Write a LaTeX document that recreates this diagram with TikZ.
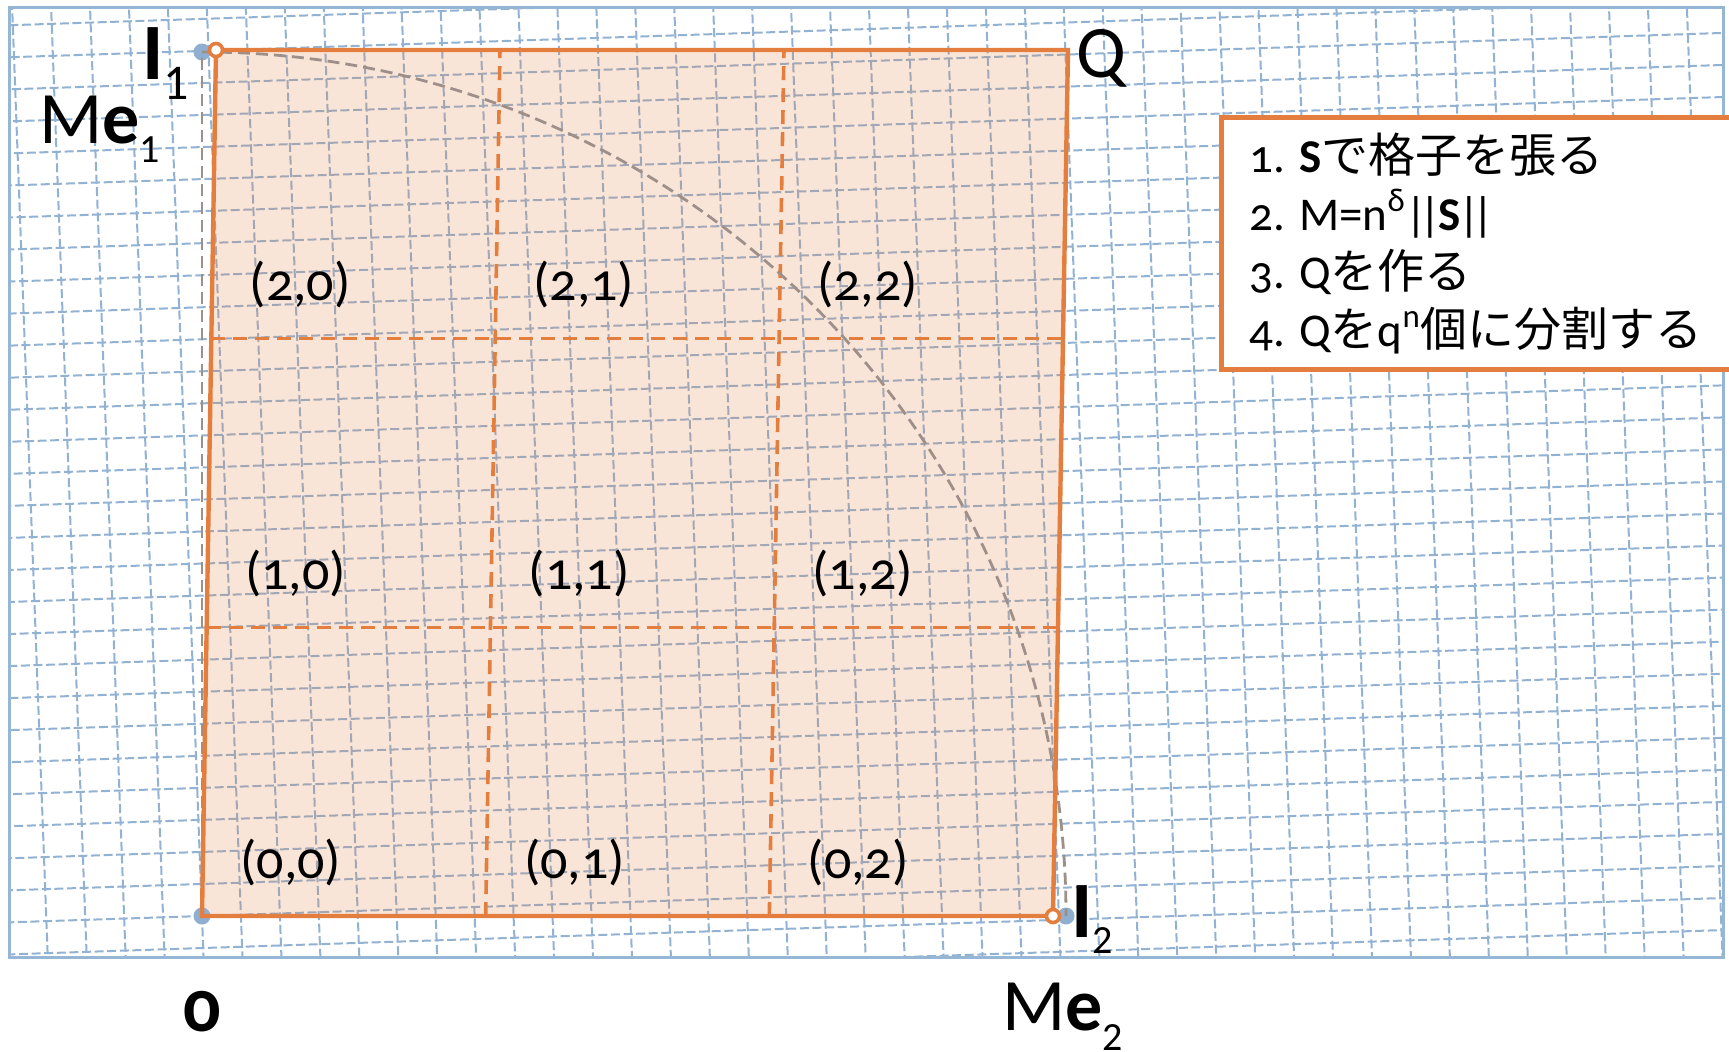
\documentclass[tikz,border=0pt]{standalone}
\usepackage{fontspec}
\setmainfont{Carlito}[Numbers=OldStyle]
\newfontfamily\liningfont{Carlito}[Numbers=Lining]
\newfontfamily\jpfont{Noto Sans CJK JP}
\usetikzlibrary{calc}

\definecolor{gridblue}{RGB}{146,178,212}
\definecolor{frameblue}{RGB}{150,182,214}
\definecolor{dotblue}{RGB}{143,175,209}
\definecolor{qorange}{RGB}{228,126,62}
\definecolor{arcgray}{RGB}{158,143,137}

% lowered subscript in lining figures: #1 drop, #2 size, #3 text
\newcommand{\lowsub}[3]{\raisebox{-#1}{\normalfont\liningfont\fontsize{#2}{#2}\selectfont #3}}
% double bar of a norm
\newcommand{\dbar}{|\kern-0.17em|}

\begin{document}
\begin{tikzpicture}[x=0.5pt,y=-0.5pt,
  gridline/.style={draw=gridblue, line width=1pt, dash pattern=on 4.5pt off 1.8pt},
  frameline/.style={draw=frameblue, line width=1.5pt},
  qfill/.style={fill=qorange, fill opacity=0.2},
  qedge/.style={draw=qorange, line width=2.2pt, line join=miter},
  qsplit/.style={draw=qorange, line width=1.8pt, dash pattern=on 7pt off 4pt},
  arcline/.style={draw=arcgray, line width=1.4pt, dash pattern=on 6pt off 3pt},
  latdot/.style={circle, fill=dotblue, inner sep=0pt, minimum size=8.5pt},
  qdot/.style={circle, draw=qorange, fill=white, line width=1.8pt, inner sep=0pt, minimum size=6.5pt},
  cell/.style={inner sep=0pt, font=\fontsize{27}{27}\selectfont},
  biglabel/.style={inner sep=0pt, anchor=base west, font=\fontsize{37}{37}\selectfont},
  stepline/.style={inner sep=0pt, anchor=base west, font=\fontsize{23.5}{23.5}\selectfont},
  stepbox/.style={draw=qorange, fill=white, line width=2.5pt}
]
\useasboundingbox (0,0) rectangle (1729,1051);
\fill[white] (0,0) rectangle (1729,1051);

% skewed lattice grid
\begin{scope}
  \clip (9,7) rectangle (1723,957);
  \foreach \m in {-8,...,44}
    \draw[gridline] ({202+38.9*\m+1.2*3},{916-1.28*\m+32*3})
                 -- ({202+38.9*\m-1.2*32},{916-1.28*\m-32*32});
  \foreach \n in {-3,...,31}
    \draw[gridline] ({202-1.2*\n-38.9*7},{916-32*\n+1.28*7})
                 -- ({202-1.2*\n+38.9*45},{916-32*\n-1.28*45});
\end{scope}
\draw[frameline] (9,7) rectangle (1723,957);

% corners of the parallelogram Q
\coordinate (BL) at (202,916);
\coordinate (BR) at (1053,916);
\coordinate (TR) at (1068,50);
\coordinate (TL) at (216,50);

\fill[qfill] (BL) -- (BR) -- (TR) -- (TL) -- cycle;

% split of Q into 3 x 3 cells
\draw[qsplit] ($(BL)!1/3!(BR)$) -- ($(TL)!1/3!(TR)$);
\draw[qsplit] ($(BL)!2/3!(BR)$) -- ($(TL)!2/3!(TR)$);
\draw[qsplit] ($(BL)!1/3!(TL)$) -- ($(BR)!1/3!(TR)$);
\draw[qsplit] ($(BL)!2/3!(TL)$) -- ($(BR)!2/3!(TR)$);

% lattice points
\node[latdot] (O) at (202,916) {};
\node[latdot] (Me1) at (202,52) {};
\node[latdot] (Me2) at (1066,916) {};

% basis vector and the arc of radius |Me1|
\draw[arcline] (O.center) -- (Me1.center);
\draw[arcline] (Me1.center) arc[start angle=-90, end angle=0, radius=864];

\draw[qedge] (BL) -- (BR) -- (TR) -- (TL) -- cycle;

\node[qdot] (I1) at (TL) {};
\node[qdot] (I2) at (BR) {};

% cell indices
\foreach \i in {0,1,2}
  \foreach \j in {0,1,2}
    \node[cell] (c\i\j) at ({202+(\j+0.31)*283.67+(\i+0.187)*4.67},{916-(\i+0.187)*288.67}) {(\i,\j)};

% point labels
\node[biglabel, font=\fontsize{40}{40}\selectfont\bfseries] (lI1) at (142,79) {I\lowsub{10pt}{25}{1}};
\node[biglabel] (lMe1) at (39,143) {M\textbf{e}\lowsub{9.5pt}{20}{1}};
\node[biglabel] (lQ) at (1076,77) {Q};
\node[biglabel, font=\fontsize{40}{40}\selectfont\bfseries] (lI2) at (1071,937) {I\lowsub{8pt}{20}{2}};
\node[biglabel, anchor=base, font=\fontsize{37}{37}\selectfont\bfseries] (lO) at (202,1031) {0};
\node[biglabel] (lMe2) at (1002,1030) {M\textbf{e}\lowsub{10pt}{20}{2}};

% procedure box
\draw[stepbox] (1221,117) rectangle (1780,369);
\node[stepline] (s1) at (1249,172) {1. \textbf{S}{\jpfont で格子を張る}};
\node[stepline] (s2) at (1249,230) {2. M=n\textsuperscript{δ}\dbar\kern-0.05em\textbf{S}\kern-0.05em\dbar};
\node[stepline] (s3) at (1249,288) {3. Q{\jpfont を作る}};
\node[stepline] (s4) at (1249,346) {4. Q{\jpfont を}q\textsuperscript{n}{\jpfont 個に分割する}};
\end{tikzpicture}
\end{document}
